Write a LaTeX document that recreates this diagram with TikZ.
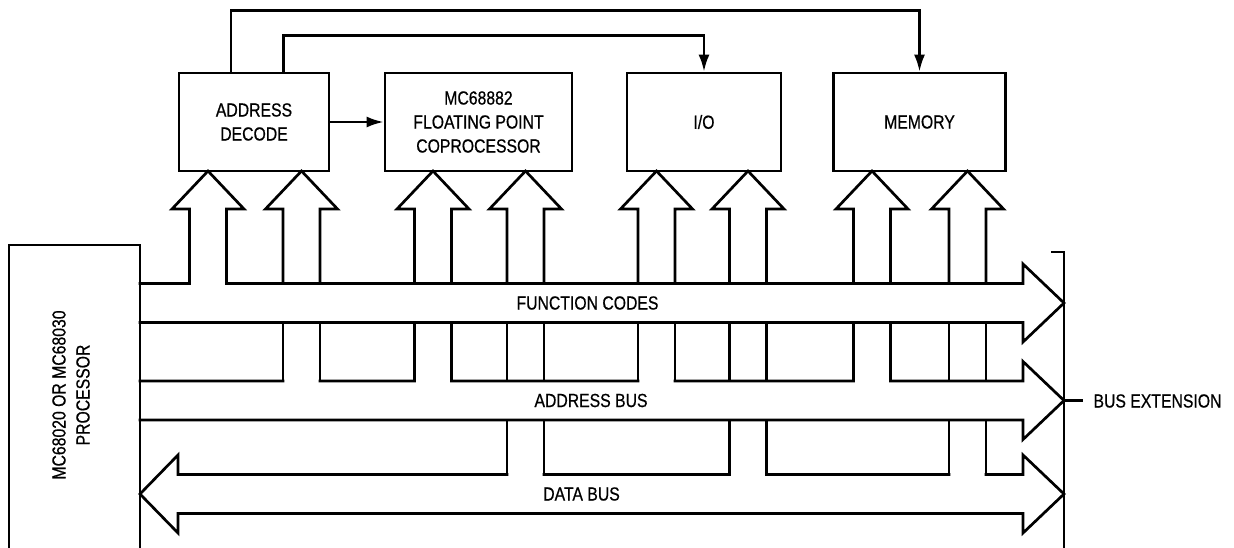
\documentclass[tikz,border=0pt]{standalone}
\usepackage{fontspec}
\setmainfont{Liberation Sans}[FakeStretch=0.83, FakeBold=0.6]
\usepackage{tikz}
\usetikzlibrary{arrows.meta}
\tikzset{>={Latex[length=17pt,width=11pt]}}
\tikzset{
  unit/.style={draw, line width=2.7pt, minimum height=98pt, align=center, inner sep=0pt},
  bus/.style={line width=2.7pt, line cap=rect, line join=miter},
  link/.style={->, line width=2.5pt}
}

\begin{document}
\begin{tikzpicture}[x=1pt, y=-1pt, font=\fontsize{19}{24}\selectfont]
   \useasboundingbox (0,0) rectangle (1234,548);
   \clip (0,0) rectangle (1234,548);
   \fill[white] (0,0) rectangle (1234,548);

   % boards
   \node[unit, minimum width=150pt] (decode) at (254,122) {ADDRESS\\DECODE};
   \node[unit, minimum width=187pt] (fpcp) at (478.5,122) {MC68882\\FLOATING POINT\\COPROCESSOR};
   \node[unit, minimum width=154pt] (io) at (704,122) {I/O};
   \node[unit, minimum width=172pt] (mem) at (919.5,122) {MEMORY};

   \node[draw, line width=2.7pt, minimum width=131pt, minimum height=320pt] (cpu) at (74.5,405) {};
   \node[rotate=90, align=center] (cpulabel) at (71,395) {MC68020 OR MC68030\\PROCESSOR};

   % select lines
   \draw[link] (decode) -- (fpcp);
   \draw[link] ([xshift=-23pt]decode.north) -- ++(0,-61) -| (mem.north);
   \draw[link] ([xshift=29.5pt]decode.north) -- ++(0,-36) -| (io.north);

   % buses
   \draw[bus] (140,283.5) -- (189.5,283.5) (226.5,283.5) -- (1023,283.5) -- (1023,264)
      -- (1064,303) -- (1023,342) -- (1023,322.5) -- (140,322.5);
   \draw[bus] (140,381) -- (283,381) (320,381) -- (414.5,381) (451.5,381) -- (638,381)
      (675,381) -- (853.5,381) (890.5,381) -- (1023,381) -- (1023,361.5)
      -- (1064,400.5) -- (1023,439.5) -- (1023,420) -- (140,420);
   \draw[bus] (507,474.5) -- (178,474.5) -- (178,455) -- (140,494) -- (178,533) -- (178,513.5)
      -- (1023,513.5) -- (1023,533) -- (1064,494) -- (1023,455) -- (1023,474.5) -- (986,474.5)
      (949,474.5) -- (766.5,474.5) (729.5,474.5) -- (544,474.5);

   % fat arrows up to the boards
   \foreach \c/\n in {208/1, 301.5/2, 433/2, 525.5/3, 656.5/2, 748/3, 872/2, 967.5/3}{
      \draw[bus] ({\c-18.5},283.5) -- ({\c-18.5},209) -- ({\c-36},209) -- (\c,171)
         -- ({\c+36},209) -- ({\c+18.5},209) -- ({\c+18.5},283.5);
      \ifnum\n>1
         \draw[bus] ({\c-18.5},322.5) -- ({\c-18.5},381) ({\c+18.5},322.5) -- ({\c+18.5},381);
      \fi
      \ifnum\n>2
         \draw[bus] ({\c-18.5},420) -- ({\c-18.5},474.5) ({\c+18.5},420) -- ({\c+18.5},474.5);
      \fi
   }

   \node (fclabel) at (587.5,303) {FUNCTION CODES};
   \node (adlabel) at (591,400.5) {ADDRESS BUS};
   \node (dblabel) at (581.5,494) {DATA BUS};

   % bus extension
   \draw[bus] (1052,252) -- (1064,252) -- (1064,560);
   \draw[bus] (1064,400.5) -- (1082,400.5);
   \node[anchor=west] (busext) at (1090,401) {BUS EXTENSION};

\end{tikzpicture}
\end{document}
